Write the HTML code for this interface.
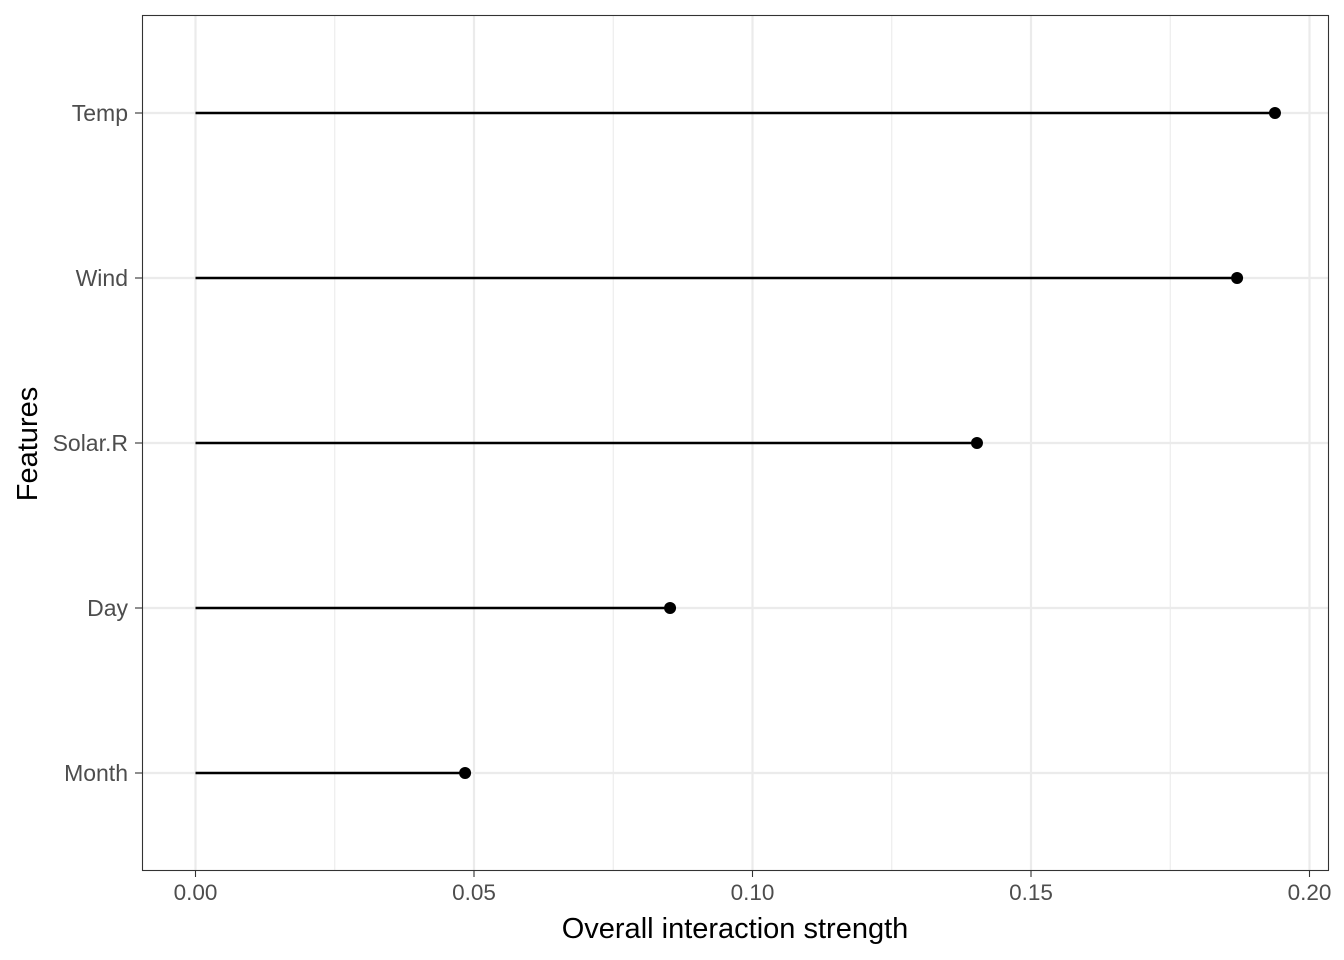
<!DOCTYPE html>
<html><head><meta charset="utf-8"><style>
html,body{margin:0;padding:0;background:#fff;}
svg{display:block;font-family:"Liberation Sans",Arial,sans-serif;}
</style></head><body>
<svg id="chart" width="1344" height="960">
<g id="grid"></g>
<g id="marks"></g>
<rect x="142.5" y="15.5" width="1186" height="855" fill="none" stroke="#333" stroke-width="1.1"/>
<g id="xaxis"></g>
<g id="yaxis"></g>
<text x="735" y="938" text-anchor="middle" font-size="29" fill="#000">Overall interaction strength</text>
<text transform="translate(37,444) rotate(-90)" text-anchor="middle" font-size="29" fill="#000">Features</text>
</svg>
<script>
const features = ["Month","Day","Solar.R","Wind","Temp"];
const strengths = [0.0484,0.0852,0.1403,0.1870,0.1938];
const xTicks = [0,0.05,0.10,0.15,0.20];
const xTickLabels = ["0.00","0.05","0.10","0.15","0.20"];
const xMinor = [0.025,0.075,0.125,0.175];

const NS="http://www.w3.org/2000/svg";
function x(v){return 195.5+v*5570;}
function y(i){return 773-i*165;}
function mk(tag,attrs,parent){const e=document.createElementNS(NS,tag);for(const k in attrs)e.setAttribute(k,attrs[k]);parent.appendChild(e);return e;}
const grid=document.getElementById('grid'),marks=document.getElementById('marks'),xa=document.getElementById('xaxis'),ya=document.getElementById('yaxis');
xMinor.forEach(v=>{const l=mk('line',{x1:x(v),x2:x(v),y1:15,y2:870,stroke:'#ebebeb','stroke-width':1.1},grid);

});
xTicks.forEach((v,i)=>{const l=mk('line',{x1:x(v),x2:x(v),y1:15,y2:870,stroke:'#ebebeb','stroke-width':2.2},grid);


const t=mk('line',{x1:x(v),x2:x(v),y1:870,y2:877,stroke:'#333','stroke-width':1.1},xa);


const tx=mk('text',{x:x(v),y:900,'text-anchor':'middle','font-size':'22.5',fill:'#4d4d4d'},xa);tx.textContent=xTickLabels[i];

});
features.forEach((f,i)=>{const l=mk('line',{x1:142,x2:1329,y1:y(i),y2:y(i),stroke:'#ebebeb','stroke-width':2.2},grid);


const t=mk('line',{x1:135,x2:142,y1:y(i),y2:y(i),stroke:'#333','stroke-width':1.1},ya);


const tx=mk('text',{x:128,y:y(i)+8,'text-anchor':'end','font-size':'23',fill:'#4d4d4d'},ya);tx.textContent=f;


const s=mk('line',{x1:x(0),x2:x(strengths[i]),y1:y(i),y2:y(i),stroke:'#000','stroke-width':2.4},marks);


const c=mk('circle',{cx:x(strengths[i]),cy:y(i),r:6,fill:'#000'},marks);

});
</script>
</body></html>
